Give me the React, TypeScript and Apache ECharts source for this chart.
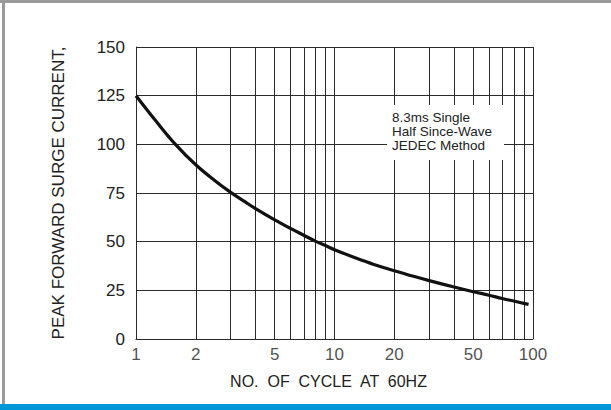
import React, { useEffect, useRef } from "react";
import * as echarts from "echarts";

const cycles = [1, 1.26, 1.58, 2, 2.5, 3, 3.55, 4, 5, 6, 7, 8, 9, 10, 12.6, 15.8, 20, 25, 30, 40, 50, 60, 70, 80, 90, 95];
const current = [125, 112, 100, 89.5, 81.3, 75.3, 70.4, 67, 61.2, 56.8, 53.3, 50.3, 48, 45.9, 41.9, 38.3, 35.1, 32.2, 30, 26.7, 24.3, 22.5, 20.8, 19.5, 18.3, 17.8];
const labeledTicks = [1, 2, 5, 10, 20, 50, 100];
const unlabeledGrid = [3, 4, 6, 7, 8, 9, 30, 40, 60, 70, 80, 90];
const yTicks = [0, 25, 50, 75, 100, 125, 150];
const noteLines = ["8.3ms Single", "Half Since-Wave", "JEDEC Method"];

const FONT = "Liberation Sans, Arial, sans-serif";
const GRID_COLOR = "#2a2a2a";
const TEXT_COLOR = "#222";

export default function App() {
  const ref = useRef<HTMLDivElement>(null);
  useEffect(() => {
    if (!ref.current) return;
    const chart = echarts.init(ref.current, null, { renderer: "svg" });
    const gridLines = [...labeledTicks, ...unlabeledGrid].map((v) => ({ xAxis: v }));
    chart.setOption({
      animation: false,
      backgroundColor: "#fff",
      grid: { left: 136, right: 78, top: 47, bottom: 71 },
      xAxis: {
        type: "log",
        logBase: 10,
        min: 1,
        max: 100,
        name: "NO.  OF  CYCLE  AT  60HZ",
        nameLocation: "middle",
        nameGap: 34,
        nameTextStyle: { fontFamily: FONT, fontSize: 16, color: TEXT_COLOR, padding: [0, 12, 0, 0] },
        axisLine: { show: true, lineStyle: { color: GRID_COLOR, width: 1 } },
        axisTick: { show: false },
        axisLabel: { show: false },
        splitLine: { show: false },
        minorTick: { show: false },
        minorSplitLine: { show: false },
      },
      yAxis: {
        type: "value",
        min: yTicks[0],
        max: yTicks[yTicks.length - 1],
        interval: 25,
        name: "PEAK FORWARD SURGE CURRENT,",
        nameLocation: "middle",
        nameGap: 69,
        nameTextStyle: { fontFamily: FONT, fontSize: 17, color: TEXT_COLOR },
        axisLine: { show: true, lineStyle: { color: GRID_COLOR, width: 1 } },
        axisTick: { show: false },
        axisLabel: { fontFamily: FONT, fontSize: 17, color: TEXT_COLOR, margin: 11 },
        splitLine: { show: true, lineStyle: { color: GRID_COLOR, width: 1 } },
      },
      series: [
        {
          type: "line",
          data: cycles.map((c, i) => [c, current[i]]),
          smooth: 0.4,
          showSymbol: false,
          lineStyle: { color: "#111", width: 3.2 },
          z: 5,
          markLine: {
            silent: true,
            symbol: "none",
            label: { show: false },
            lineStyle: { color: GRID_COLOR, width: 1, type: "solid" },
            data: gridLines,
          },
        },
        {
          type: "scatter",
          data: labeledTicks.map((t) => [t, 0]),
          symbolSize: 0,
          silent: true,
          label: {
            show: true,
            position: "bottom",
            distance: 7,
            fontFamily: FONT,
            fontSize: 17,
            color: TEXT_COLOR,
            formatter: (p: any) => String(p.value[0]),
          },
        },
      ],
      graphic: [
        { type: "rect", shape: { x: 0, y: 0, width: 611, height: 3 }, style: { fill: "#9a9a9a" }, z: 100 },
        { type: "rect", shape: { x: 2, y: 0, width: 3, height: 404 }, style: { fill: "#9a9a9a" }, z: 100 },
        { type: "rect", shape: { x: 0, y: 404, width: 611, height: 6 }, style: { fill: "#0096d8" }, z: 100 },
        { type: "rect", shape: { x: 387, y: 105, width: 117, height: 55 }, style: { fill: "#fff" }, z: 100 },
        ...noteLines.map((t, i) => ({
          type: "text",
          x: 392,
          y: 117.5 + i * 14,
          z: 101,
          style: {
            text: t,
            fontFamily: FONT,
            fontSize: 13.5,
            verticalAlign: "middle",
            fill: TEXT_COLOR,
          },
        })),
      ],
    });
    return () => chart.dispose();
  }, []);
  return <div ref={ref} style={{ position: "fixed", left: 0, top: 0, width: 611, height: 410 }} />;
}
